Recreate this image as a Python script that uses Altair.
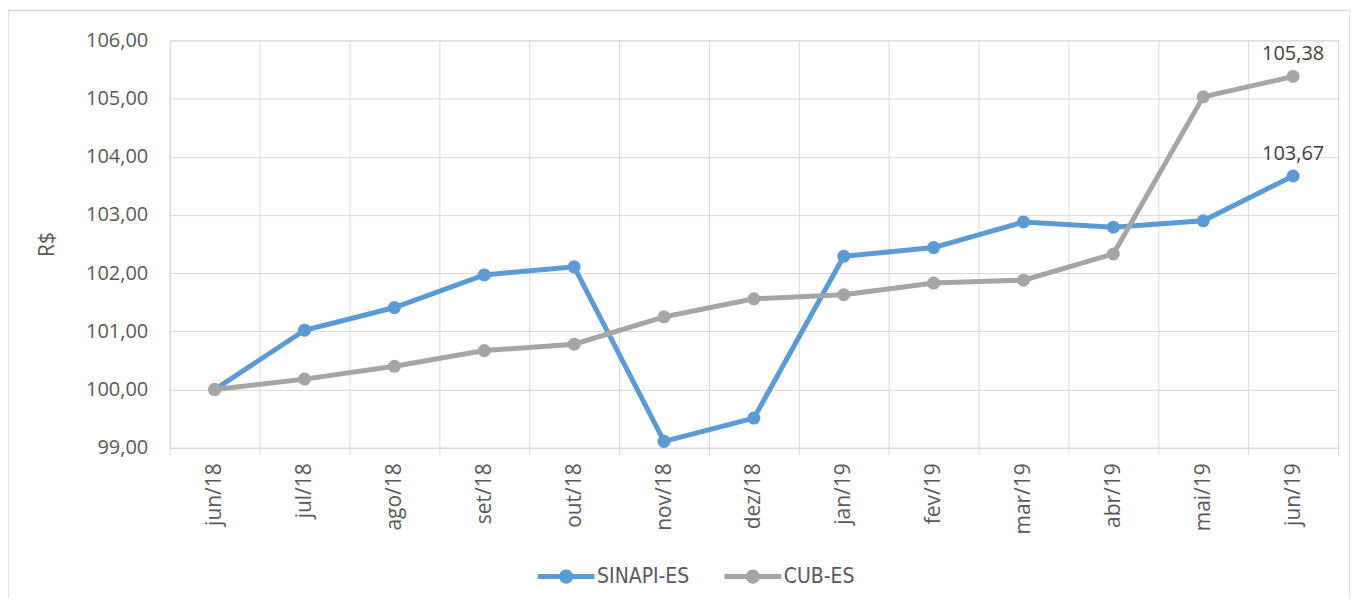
import altair as alt
import pandas as pd

meses = ["jun/18", "jul/18", "ago/18", "set/18", "out/18", "nov/18", "dez/18",
         "jan/19", "fev/19", "mar/19", "abr/19", "mai/19", "jun/19"]
sinapi = [100.00, 101.02, 101.41, 101.97, 102.11, 99.11, 99.51,
          102.29, 102.44, 102.88, 102.79, 102.90, 103.67]
cub = [100.00, 100.18, 100.40, 100.67, 100.78, 101.25, 101.56,
       101.63, 101.83, 101.88, 102.33, 105.03, 105.38]
series = ["SINAPI-ES", "CUB-ES"]
cores = ["#5B9BD5", "#A5A5A5"]
y_ticks = [99, 100, 101, 102, 103, 104, 105, 106]

rows = []
for i, m in enumerate(meses):
    rows.append({"mes": m, "serie": "SINAPI-ES", "valor": sinapi[i], "ordem": 0})
for i, m in enumerate(meses):
    rows.append({"mes": m, "serie": "CUB-ES", "valor": cub[i], "ordem": 1})
df = pd.DataFrame(rows)

FONT = "Open Sans"
TXT = "#595959"
GRID = "#D9D9D9"

legend_path = ("M-1.6,-0.14 L1.6,-0.14 L1.6,0.14 L-1.6,0.14 Z "
               "M0.4,0 A0.4,0.4 0 1,1 -0.4,0 A0.4,0.4 0 1,1 0.4,0 Z")

x_enc = alt.X("mes:N", sort=meses,
              scale=alt.Scale(paddingInner=0, paddingOuter=0),
              axis=alt.Axis(title=None, labelAngle=270, labelFontSize=21,
                            labelFont=FONT, labelColor=TXT, labelPadding=8,
                            tickBand="extent",
                            grid=True, gridColor=GRID, gridWidth=1,
                            ticks=True, tickSize=7, tickColor=GRID,
                            domainColor=GRID, domainWidth=1))
y_enc = alt.Y("valor:Q",
              scale=alt.Scale(domain=[99, 106], nice=False, zero=False),
              axis=alt.Axis(values=y_ticks, title="R$", titleFontSize=21,
                            titleFont=FONT, titleColor=TXT, titleFontWeight="normal",
                            titlePadding=28,
                            labelFontSize=20, labelFont=FONT, labelColor=TXT,
                            labelPadding=22,
                            labelExpr="replace(format(datum.value, '.2f'), '.', ',')",
                            grid=True, gridColor=GRID, gridWidth=1,
                            ticks=False, domain=False))
color_scale = alt.Scale(domain=series, range=cores)

base = alt.Chart(df)

lines = base.mark_line(strokeWidth=5).encode(
    x=x_enc, y=y_enc,
    color=alt.Color("serie:N", scale=color_scale, legend=None),
    order=alt.Order("ordem:Q"), detail="serie:N")

points = base.mark_point(size=170, opacity=1, filled=True, shape="circle").encode(
    x=alt.X("mes:N", sort=meses), y="valor:Q",
    color=alt.Color("serie:N", scale=color_scale,
                    legend=alt.Legend(orient="none", legendX=379, legendY=519,
                                      direction="horizontal", title=None,
                                      symbolType=legend_path, symbolSize=1268,
                                      symbolStrokeWidth=0, symbolOpacity=1,
                                      labelFont="Liberation Sans Narrow, DejaVu Sans Condensed, Open Sans, sans-serif",
                                      labelFontSize=21, labelColor=TXT,
                                      labelOffset=13, columnPadding=34, padding=0)),
    order=alt.Order("ordem:Q"))

labels = base.transform_filter(alt.datum.mes == meses[-1]).transform_calculate(
    rotulo="replace(format(datum.valor, '.2f'), '.', ',')"
).mark_text(dy=-22, fontSize=20, font=FONT, color="#404040").encode(
    x=alt.X("mes:N", sort=meses), y="valor:Q", text="rotulo:N")

frame = alt.Chart(pd.DataFrame({"f": [0]})).mark_rect(
    fillOpacity=0, stroke=GRID, strokeWidth=1.5).encode(
    x=alt.value(-162), x2=alt.value(1182), y=alt.value(-30), y2=alt.value(565))

chart = alt.layer(frame, lines, points, labels).resolve_legend(
    color="independent"
).properties(
    width=1170, height=408,
    autosize=alt.AutoSizeParams(type="none"),
    padding={"left": 162, "top": 32, "right": 12, "bottom": 150},
    background="white"
).configure_view(stroke=GRID, strokeWidth=1)

chart.save("out.html", embed_options={"renderer": "svg", "actions": False})
